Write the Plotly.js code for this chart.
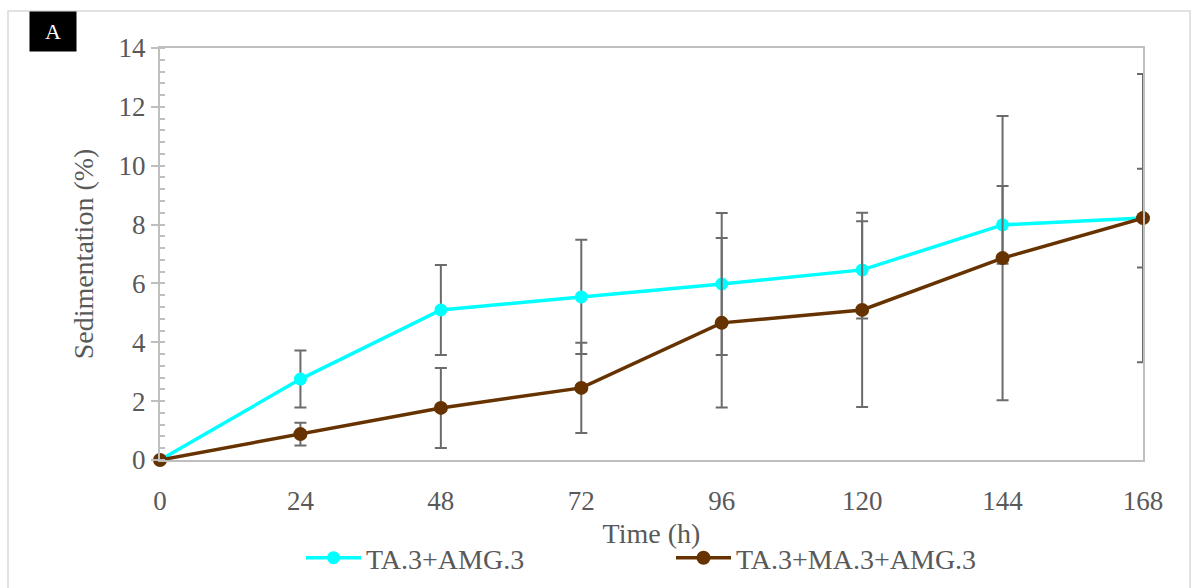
<!DOCTYPE html>
<html>
<head>
<meta charset="utf-8">
<script src="https://cdn.plot.ly/plotly-3.0.1.min.js"></script>
<style>
html,body{margin:0;padding:0;background:#fff;}
#chart{width:1198px;height:588px;}
</style>
</head>
<body>
<div id="chart"></div>
<script>
var timeHours = [0, 24, 48, 72, 96, 120, 144, 168];
var seriesNames = ["TA.3+AMG.3", "TA.3+MA.3+AMG.3"];
var taAmg = [0, 2.75, 5.10, 5.54, 5.98, 6.46, 7.99, 8.22];
var taAmgErr = [0, 0.97, 1.53, 1.94, 2.41, 1.65, 1.32, 1.68];
var taMaAmg = [0, 0.88, 1.77, 2.45, 4.66, 5.10, 6.86, 8.22];
var taMaAmgErr = [0, 0.39, 1.36, 1.53, 2.88, 3.30, 4.83, 4.90];
var xTicks = [0, 24, 48, 72, 96, 120, 144, 168];
var yTicks = [0, 2, 4, 6, 8, 10, 12, 14];

var font = "Liberation Serif, Times New Roman, serif";
var grey = "#595959";
var errStyle = function (arr) {
  return {type: "data", array: arr, visible: true, color: "#6b6b6b", thickness: 2, width: 6};
};

var traces = [
  {
    x: timeHours, y: taAmg, name: seriesNames[0], type: "scatter", mode: "lines+markers",
    line: {color: "#00ffff", width: 3.5},
    marker: {color: "#00ffff", size: 13, symbol: "circle"},
    error_y: errStyle(taAmgErr), cliponaxis: false
  },
  {
    x: timeHours, y: taMaAmg, name: seriesNames[1], type: "scatter", mode: "lines+markers",
    line: {color: "#663300", width: 3.5},
    marker: {color: "#663300", size: 14, symbol: "circle"},
    error_y: errStyle(taMaAmgErr), cliponaxis: false
  }
];

var L = 160, R = 1143, T = 48, B = 460;
var pw = R - L, ph = B - T;
function px(x) { return (x - L) / pw; }
function py(y) { return (B - y) / ph; }

var layout = {
  width: 1198, height: 588,
  margin: {l: L, r: 1198 - R, t: T, b: 588 - B, autoexpand: false},
  paper_bgcolor: "#ffffff", plot_bgcolor: "#ffffff",
  font: {family: font, color: grey, size: 27},
  showlegend: true,
  legend: {
    orientation: "h", x: px(301), xanchor: "left", y: py(558), yanchor: "middle",
    font: {family: font, size: 28, color: grey},
    itemwidth: 55, entrywidth: 300, entrywidthmode: "pixels",
    bgcolor: "rgba(0,0,0,0)", traceorder: "normal"
  },
  xaxis: {
    range: [0, 168], tickmode: "array", tickvals: xTicks, ticktext: xTicks.map(String),
    showgrid: false, zeroline: false, showline: true, linecolor: "#bfbfbf", linewidth: 2,
    mirror: true, ticks: "", ticklabelstandoff: 16, automargin: false,
    tickfont: {family: font, size: 27, color: grey},
    title: {text: "Time (h)", font: {family: font, size: 28, color: grey}, standoff: 8}
  },
  yaxis: {
    range: [0, 14], tickmode: "array", tickvals: yTicks, ticktext: yTicks.map(String),
    showgrid: false, zeroline: false, showline: true, linecolor: "#bfbfbf", linewidth: 2,
    mirror: true, ticks: "outside", ticklen: 7, tickwidth: 2, tickcolor: "#bfbfbf", automargin: false,
    minor: {dtick: 0.4, ticks: "inside", ticklen: 5, tickwidth: 2, tickcolor: "#bfbfbf", showgrid: false},
    tickfont: {family: font, size: 27, color: grey},
    title: {text: "Sedimentation (%)", font: {family: font, size: 28, color: grey}, standoff: 17}
  },
  shapes: [
    {type: "rect", xref: "paper", yref: "paper", x0: px(8), x1: px(1190), y0: py(620), y1: py(11),
     line: {color: "#d9d9d9", width: 1.5}, fillcolor: "rgba(0,0,0,0)", layer: "below"}
  ],
  annotations: [
    {text: "A", xref: "paper", yref: "paper", x: px(29), y: py(11), xanchor: "left", yanchor: "top",
     showarrow: false, bgcolor: "#000000", width: 46, height: 39, align: "center", valign: "middle",
     font: {family: font, size: 22, color: "#ffffff"}, borderpad: 0}
  ]
};

Plotly.newPlot("chart", traces, layout, {displayModeBar: false, staticPlot: true});
</script>
</body>
</html>
